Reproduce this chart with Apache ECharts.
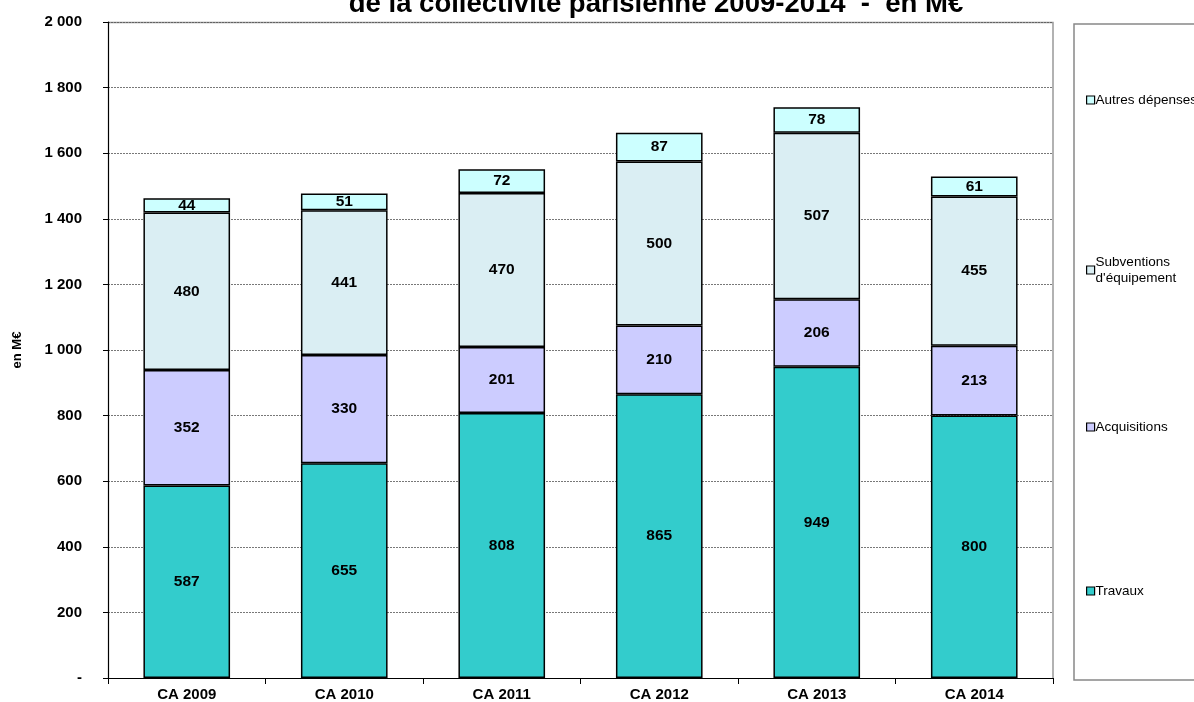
<!DOCTYPE html>
<html>
<head>
<meta charset="utf-8">
<script src="https://cdn.jsdelivr.net/npm/echarts@6/dist/echarts.min.js"></script>
<style>
  html, body { margin: 0; padding: 0; background: #fff; }
  #chart { width: 1194px; height: 702px; }
</style>
</head>
<body>
<div id="chart"></div>
<script>
// Dépenses d'investissement par nature, comptes administratifs 2009-2014 (M€)
const categories = ['CA 2009', 'CA 2010', 'CA 2011', 'CA 2012', 'CA 2013', 'CA 2014'];
const travaux = [587, 655, 808, 865, 949, 800];
const acquisitions = [352, 330, 201, 210, 206, 213];
const subventions = [480, 441, 470, 500, 507, 455];
const autres = [44, 51, 72, 87, 78, 61];
const yTicks = [0, 200, 400, 600, 800, 1000, 1200, 1400, 1600, 1800, 2000];

const FONT = 'Liberation Sans, Arial, sans-serif';

function fmt(v) {
  if (v === 0) return '-';
  return String(v).replace(/\B(?=(\d{3})+(?!\d))/g, ' ');
}

function barSeries(name, data, color) {
  return {
    name: name,
    type: 'bar',
    stack: 'total',
    data: data,
    barWidth: '55%',
    itemStyle: { color: color, borderColor: '#000', borderWidth: 1.5 },
    label: {
      show: true,
      position: 'inside',
      color: '#000',
      fontFamily: FONT,
      fontWeight: 'bold',
      fontSize: 15.5
    },
    emphasis: { disabled: true }
  };
}

function legendAt(name, top) {
  return {
    data: [name],
    left: 1081,
    top: top,
    orient: 'vertical',
    itemWidth: 8,
    itemHeight: 8,
    itemGap: 4,
    icon: 'rect',
    selectedMode: false,
    itemStyle: { borderColor: '#000', borderWidth: 1.2 },
    textStyle: { fontFamily: FONT, fontSize: 13.5, color: '#000', padding: [0, 0, 0, -4], lineHeight: 16 }
  };
}

const chart = echarts.init(document.getElementById('chart'), null, { renderer: 'canvas' });

chart.setOption({
  animation: false,
  backgroundColor: '#fff',
  title: {
    text: 'de la collectivité parisienne 2009-2014  -  en M€',
    left: 651,
    textAlign: 'center',
    top: -15,
    textStyle: { fontFamily: FONT, fontWeight: 'bold', fontSize: 27.5, color: '#000' }
  },
  grid: { left: 108, top: 22, width: 945, height: 656, containLabel: false, show: false },
  legend: [
    legendAt('Autres dépenses', 87),
    legendAt("Subventions\nd'équipement", 249),
    legendAt('Acquisitions', 414),
    legendAt('Travaux', 578)
  ],
  graphic: [
    {
      type: 'rect',
      shape: { x: 1074, y: 24, width: 140, height: 656 },
      style: { fill: 'none', stroke: '#888', lineWidth: 1.5 },
      z: 0
    },
    {
      type: 'polyline',
      shape: { points: [[108, 22.5], [1053, 22.5], [1053, 678]] },
      style: { stroke: '#999', lineWidth: 1.5, fill: 'none' },
      z: 0
    }
  ],
  xAxis: {
    type: 'category',
    data: categories,
    axisLine: { lineStyle: { color: '#000', width: 1.2 } },
    axisTick: { show: true, inside: false, length: 6, alignWithLabel: false, lineStyle: { color: '#000' } },
    axisLabel: { fontFamily: FONT, fontWeight: 'bold', fontSize: 15, color: '#000', margin: 9 }
  },
  yAxis: {
    type: 'value',
    min: 0,
    max: 2000,
    interval: 200,
    name: 'en M€',
    nameLocation: 'middle',
    nameRotate: 90,
    nameGap: 84,
    nameTextStyle: { fontFamily: FONT, fontWeight: 'bold', fontSize: 13, color: '#000' },
    axisLine: { show: true, lineStyle: { color: '#000', width: 1.2 } },
    axisTick: { show: true, length: 5, lineStyle: { color: '#000' } },
    axisLabel: {
      fontFamily: FONT, fontWeight: 'bold', fontSize: 15, color: '#000', margin: 26,
      formatter: function (v) { return yTicks.indexOf(v) >= 0 ? fmt(v) : ''; }
    },
    splitLine: { show: true, lineStyle: { color: '#555', type: [2, 1], width: 0.8 } }
  },
  series: [
    barSeries('Travaux', travaux, '#33CCCC'),
    barSeries('Acquisitions', acquisitions, '#CCCCFF'),
    barSeries("Subventions\nd'équipement", subventions, '#DAEEF3'),
    barSeries('Autres dépenses', autres, '#CCFFFF')
  ]
});
</script>
</body>
</html>
